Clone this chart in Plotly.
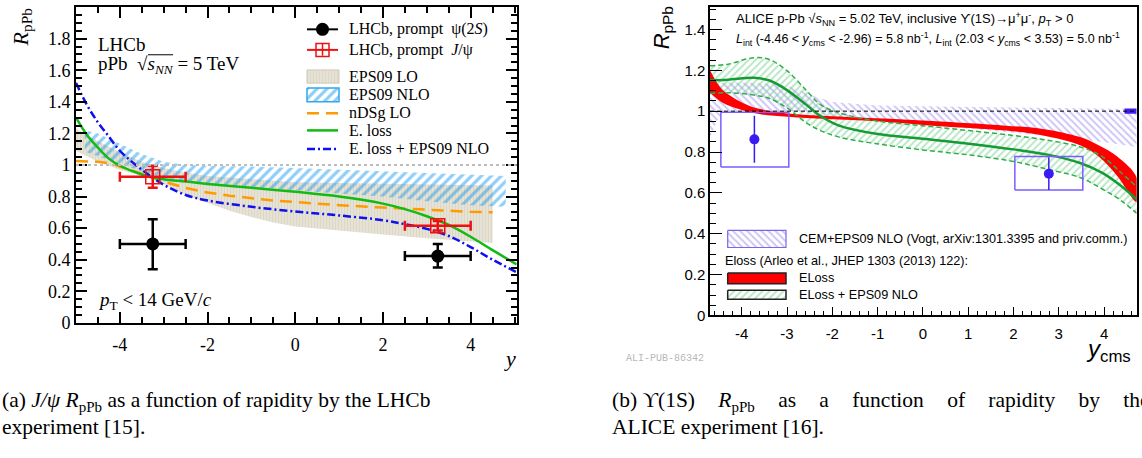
import plotly.graph_objects as go

W, H = 1142, 458
SERIF = "Liberation Serif"
SANS = "Liberation Sans"

# ---------------- LHCb (left panel) data ----------------
lhcb_bin_center = [-3.25, 3.25]
lhcb_bin_half = [0.75, 0.75]
psi2s_r = [0.50, 0.423]
psi2s_err_up = [0.156, 0.077]
psi2s_err_dn = [0.160, 0.073]
jpsi_r = [0.925, 0.615]
jpsi_err = [0.07, 0.03]

eps09lo_y = [-5, -4.5, -4, -3.5, -3, -2.5, -2, -1.5, -1, -0.5, 0, 1, 2, 3, 4, 4.5]
eps09lo_hi = [1.23, 1.15, 1.08, 1.02, 0.98, 0.95, 0.93, 0.92, 0.91, 0.90, 0.89, 0.885, 0.88, 0.875, 0.87, 0.87]
eps09lo_lo = [1.09, 1.02, 0.97, 0.93, 0.88, 0.81, 0.76, 0.71, 0.67, 0.635, 0.61, 0.585, 0.56, 0.535, 0.515, 0.505]

eps09nlo_y = [-4.8, -4.5, -4, -3.5, -3, -2.5, -2, -1, 0, 1, 2, 3, 4, 4.8]
eps09nlo_hi = [1.22, 1.20, 1.135, 1.07, 1.02, 1.0, 0.995, 0.99, 0.98, 0.97, 0.96, 0.95, 0.94, 0.93]
eps09nlo_lo = [1.085, 1.06, 1.01, 0.96, 0.92, 0.90, 0.88, 0.86, 0.84, 0.82, 0.80, 0.77, 0.745, 0.735]

ndsg_y = [-5, -4.5, -4.2, -4, -3.5, -3, -2.5, -2, -1.5, -1, -0.5, 0, 1, 2, 3, 4, 4.5]
ndsg_r = [1.025, 1.02, 1.01, 0.99, 0.945, 0.895, 0.855, 0.825, 0.805, 0.79, 0.775, 0.765, 0.745, 0.73, 0.715, 0.703, 0.70]

eloss_y = [-5, -4.75, -4.5, -4.25, -4, -3.5, -3, -2.5, -2, -1, 0, 1, 2, 2.5, 3, 3.5, 4, 4.5, 5.05]
eloss_r = [1.30, 1.19, 1.11, 1.04, 0.995, 0.94, 0.91, 0.895, 0.88, 0.855, 0.83, 0.80, 0.755, 0.72, 0.675, 0.62, 0.545, 0.46, 0.37]

elosseps_y = [-5, -4.75, -4.5, -4.25, -4, -3.5, -3, -2.5, -2, -1, 0, 1, 2, 2.5, 3, 3.5, 4, 4.5, 5.05]
elosseps_r = [1.52, 1.38, 1.27, 1.18, 1.09, 0.97, 0.875, 0.81, 0.775, 0.735, 0.705, 0.68, 0.65, 0.625, 0.595, 0.55, 0.48, 0.40, 0.32]

left_xticks = [-4, -2, 0, 2, 4]
left_xticklabels = ["-4", "-2", "0", "2", "4"]
left_yticks = [0, 0.2, 0.4, 0.6, 0.8, 1.0, 1.2, 1.4, 1.6, 1.8, 2.0]
left_yticklabels = ["0", "0.2", "0.4", "0.6", "0.8", "1", "1.2", "1.4", "1.6", "1.8", "2"]

# ---------------- ALICE (right panel) data ----------------
ups_y = [-3.72, 2.78]
ups_r = [0.862, 0.694]
ups_stat = [0.115, 0.08]
ups_sys_xlo = [-4.46, 2.03]
ups_sys_xhi = [-2.96, 3.53]
ups_sys_up = [0.133, 0.084]
ups_sys_dn = [0.135, 0.080]
global_unc = 0.013
global_box_x = [4.45, 4.72]

cem_y = [-4.7, -4.55, -4.4, -4, -3.5, -3, -2.5, -2, -1.5, -1, 0, 1, 2, 3, 4, 4.72]
cem_hi = [1.12, 1.13, 1.14, 1.14, 1.135, 1.125, 1.08, 1.045, 1.035, 1.028, 1.024, 1.02, 1.018, 1.016, 1.013, 1.01]
cem_lo = [0.87, 0.95, 1.0, 1.0, 1.0, 1.0, 0.99, 0.975, 0.965, 0.955, 0.935, 0.915, 0.895, 0.873, 0.848, 0.825]

eloss_a_y = [-4.7, -4.44, -4.14, -3.85, -3.56, -2.98, -2.11, -1.02, 0.2, 1.83, 2.65, 3.47, 3.88, 4.29, 4.72]
eloss_a_hi = [1.20, 1.107, 1.06, 1.028, 1.009, 0.989, 0.976, 0.965, 0.952, 0.929, 0.913, 0.873, 0.833, 0.778, 0.675]
eloss_a_lo = [1.09, 1.044, 1.016, 0.997, 0.984, 0.972, 0.961, 0.95, 0.929, 0.905, 0.881, 0.833, 0.778, 0.683, 0.556]

elosseps_a_y = [-4.7, -4.3, -3.73, -3.4, -3.0, -2.58, -2.26, -1.85, -1.03, 0, 1.01, 2.0, 2.78, 3.47, 3.96, 4.37, 4.72]
elosseps_a_c = [1.151, 1.154, 1.163, 1.151, 1.103, 1.032, 0.976, 0.929, 0.889, 0.865, 0.841, 0.813, 0.786, 0.746, 0.698, 0.635, 0.568]
elosseps_a_hi = [1.222, 1.23, 1.262, 1.254, 1.198, 1.103, 1.032, 0.992, 0.952, 0.929, 0.905, 0.881, 0.857, 0.825, 0.778, 0.70, 0.63]
elosseps_a_lo = [1.087, 1.09, 1.079, 1.063, 1.016, 0.944, 0.905, 0.873, 0.841, 0.810, 0.786, 0.754, 0.714, 0.675, 0.619, 0.563, 0.50]

right_xticks = [-4, -3, -2, -1, 0, 1, 2, 3, 4]
right_xticklabels = ["-4", "-3", "-2", "-1", "0", "1", "2", "3", "4"]
right_yticks = [0, 0.2, 0.4, 0.6, 0.8, 1.0, 1.2, 1.4]
right_yticklabels = ["0", "0.2", "0.4", "0.6", "0.8", "1", "1.2", "1.4"]


def fx(px):
    return px / W


def fy(py):
    return 1 - py / H


def band(xs, hi, lo):
    return list(xs) + list(xs)[::-1], list(hi) + list(lo)[::-1]


fig = go.Figure()
nohover = dict(hoverinfo="skip", showlegend=False)

BEIGE_PAT = dict(shape="|", fgcolor="#d3ccb8", bgcolor="#e6e2d5", size=3, solidity=0.35)
BLUE_PAT = dict(shape="/", fgcolor="#1e9cf0", bgcolor="rgba(0,0,0,0)", size=7, solidity=0.45)
VIOLET_PAT = dict(shape="\\", fgcolor="#9c8cf0", bgcolor="rgba(0,0,0,0)", size=5, solidity=0.4)
GREEN_PAT = dict(shape="/", fgcolor="#6fcf8a", bgcolor="rgba(0,0,0,0)", size=5, solidity=0.38)

# ---- left panel ----
bx, by = band(eps09lo_y, eps09lo_hi, eps09lo_lo)
fig.add_trace(go.Scatter(x=bx, y=by, fill="toself", mode="lines", line=dict(width=0),
                         fillcolor="#e6e2d5", fillpattern=BEIGE_PAT, xaxis="x", yaxis="y", **nohover))
bx, by = band(eps09nlo_y, eps09nlo_hi, eps09nlo_lo)
fig.add_trace(go.Scatter(x=bx, y=by, fill="toself", mode="lines", line=dict(width=0),
                         fillcolor="rgba(0,0,0,0)", fillpattern=BLUE_PAT, xaxis="x", yaxis="y", **nohover))
fig.add_trace(go.Scatter(x=ndsg_y, y=ndsg_r, mode="lines",
                         line=dict(color="#ff9a00", width=2.5, dash="12px,7px"),
                         xaxis="x", yaxis="y", **nohover))
fig.add_trace(go.Scatter(x=eloss_y, y=eloss_r, mode="lines", line=dict(color="#11bb11", width=2.5, shape="spline"),
                         xaxis="x", yaxis="y", **nohover))
fig.add_trace(go.Scatter(x=elosseps_y, y=elosseps_r, mode="lines",
                         line=dict(color="#1010ee", width=2.5, dash="8px,3px,2px,3px", shape="spline"),
                         xaxis="x", yaxis="y", **nohover))
fig.add_trace(go.Scatter(x=lhcb_bin_center, y=jpsi_r, mode="markers",
                         marker=dict(symbol="square-open", size=14, color="#ee1111", line=dict(width=1.5, color="#ee1111")),
                         error_x=dict(type="data", array=lhcb_bin_half, color="#ee1111", thickness=2.5, width=5),
                         error_y=dict(type="data", array=jpsi_err, color="#ee1111", thickness=2.5, width=5),
                         xaxis="x", yaxis="y", **nohover))
fig.add_trace(go.Scatter(x=lhcb_bin_center, y=psi2s_r, mode="markers",
                         marker=dict(symbol="circle", size=13, color="black"),
                         error_x=dict(type="data", array=lhcb_bin_half, color="black", thickness=2.5, width=5),
                         error_y=dict(type="data", array=psi2s_err_up, arrayminus=psi2s_err_dn, color="black",
                                      thickness=2.5, width=5),
                         xaxis="x", yaxis="y", **nohover))

# ---- right panel ----
bx, by = band(cem_y, cem_hi, cem_lo)
fig.add_trace(go.Scatter(x=bx, y=by, fill="toself", mode="lines", line=dict(width=0),
                         fillcolor="rgba(0,0,0,0)", fillpattern=VIOLET_PAT, xaxis="x2", yaxis="y2", **nohover))
bx, by = band(elosseps_a_y, elosseps_a_hi, elosseps_a_lo)
fig.add_trace(go.Scatter(x=bx, y=by, fill="toself", mode="lines", line=dict(width=0),
                         fillcolor="rgba(0,0,0,0)", fillpattern=GREEN_PAT, xaxis="x2", yaxis="y2", **nohover))
bx, by = band(eloss_a_y, eloss_a_hi, eloss_a_lo)
fig.add_trace(go.Scatter(x=bx, y=by, fill="toself", mode="lines", line=dict(width=0, shape="spline"),
                         fillcolor="#ff0000", xaxis="x2", yaxis="y2", **nohover))
for edge in (elosseps_a_hi, elosseps_a_lo):
    fig.add_trace(go.Scatter(x=elosseps_a_y, y=edge, mode="lines",
                             line=dict(color="#2fae4a", width=1.5, dash="5px,3px", shape="spline"),
                             xaxis="x2", yaxis="y2", **nohover))
fig.add_trace(go.Scatter(x=elosseps_a_y, y=elosseps_a_c, mode="lines",
                         line=dict(color="#169a34", width=2.5, shape="spline"),
                         xaxis="x2", yaxis="y2", **nohover))
for i in range(len(ups_y)):
    x0, x1 = ups_sys_xlo[i], ups_sys_xhi[i]
    y0, y1 = ups_r[i] - ups_sys_dn[i], ups_r[i] + ups_sys_up[i]
    fig.add_trace(go.Scatter(x=[x0, x1, x1, x0, x0], y=[y0, y0, y1, y1, y0], mode="lines",
                             line=dict(color="#7a5cff", width=1.5), xaxis="x2", yaxis="y2", **nohover))
fig.add_trace(go.Scatter(x=ups_y, y=ups_r, mode="markers",
                         marker=dict(symbol="circle", size=10, color="#3a1cf2"),
                         error_y=dict(type="data", array=ups_stat, color="#3a1cf2", thickness=1.5, width=0),
                         xaxis="x2", yaxis="y2", **nohover))
gx0, gx1 = global_box_x
fig.add_trace(go.Scatter(x=[gx0, gx1, gx1, gx0, gx0],
                         y=[1 - global_unc, 1 - global_unc, 1 + global_unc, 1 + global_unc, 1 - global_unc],
                         fill="toself", mode="lines", line=dict(width=0), fillcolor="#3d1ff5",
                         xaxis="x2", yaxis="y2", **nohover))


# ---- legend keys (pixel-space overlay) ----
def key_line(x0, x1, yy, **line):
    fig.add_trace(go.Scatter(x=[x0, x1], y=[yy, yy], mode="lines", line=line, xaxis="x3", yaxis="y3", **nohover))


def key_rect(x0, x1, y0, y1, fillcolor="rgba(0,0,0,0)", pattern=None, border="black", bw=1.0):
    kw = dict(fill="toself", fillcolor=fillcolor, mode="lines", line=dict(color=border, width=bw))
    if pattern:
        kw["fillpattern"] = pattern
    fig.add_trace(go.Scatter(x=[x0, x1, x1, x0, x0], y=[y0, y0, y1, y1, y0], xaxis="x3", yaxis="y3",
                             **kw, **nohover))


LX0, LX1, LXT = 307, 338, 347
rows = [30, 51, 77.7, 96.7, 115.7, 133.3, 152.3]
LXC = (LX0 + LX1) / 2
key_line(LX0, LX1, rows[0], color="black", width=2)
fig.add_trace(go.Scatter(x=[LXC], y=[rows[0]], mode="markers",
                         marker=dict(size=13, color="black"), xaxis="x3", yaxis="y3", **nohover))
key_line(LX0, LX1, rows[1], color="#ee1111", width=2)
fig.add_trace(go.Scatter(x=[LXC, LXC], y=[rows[1] - 6, rows[1] + 6], mode="lines",
                         line=dict(color="#ee1111", width=1.5), xaxis="x3", yaxis="y3", **nohover))
fig.add_trace(go.Scatter(x=[LXC], y=[rows[1]], mode="markers",
                         marker=dict(symbol="square-open", size=13, color="#ee1111", line=dict(width=1.5)),
                         xaxis="x3", yaxis="y3", **nohover))
key_rect(LX0, LX1 + 1, 71.5, 85, fillcolor="#e6e2d5", pattern=BEIGE_PAT, border="#cfc9b5", bw=1)
key_rect(LX0, LX1 + 1, 90, 104, pattern=BLUE_PAT, border="#30a8f0", bw=1.5)
key_line(LX0, LX1, rows[4], color="#ff9a00", width=2.5, dash="12px,7px")
key_line(LX0, LX1, rows[5], color="#11bb11", width=2.5)
key_line(LX0, LX1, rows[6], color="#1010ee", width=2.5, dash="8px,3px,2px,3px")

RX0, RX1 = 727.7, 786
key_rect(RX0, RX1, 235.5, 253, pattern=VIOLET_PAT, border="#7a66e8", bw=1.2)
key_rect(RX0, RX1, 279, 290, fillcolor="#ff0000", border="#222222", bw=1.5)
key_rect(RX0, RX1, 296.7, 306, pattern=GREEN_PAT, border="#222222", bw=1.5)

# ---- reference lines ----
shapes = [
    dict(type="line", xref="x domain", yref="y", x0=0, x1=1, y0=1, y1=1,
         line=dict(color="#bdbdbd", width=2, dash="dot"), layer="above"),
    dict(type="line", xref="x2 domain", yref="y2", x0=0, x1=1, y0=1, y1=1,
         line=dict(color="black", width=1, dash="4px,3px"), layer="above"),
    # square-root overline over s_NN
    dict(type="line", xref="paper", yref="paper", x0=fx(148), x1=fx(173), y0=fy(56), y1=fy(56),
         line=dict(color="black", width=1)),
]

# ---- annotations ----
ann = []


def text(px, py, s, family, size, xanchor="left", color="black", angle=0):
    ann.append(dict(x=fx(px), y=fy(py), xref="paper", yref="paper", text=s, showarrow=False,
                    xanchor=xanchor, yanchor="middle", textangle=angle,
                    font=dict(family=family, size=size, color=color)))


text(22, 28, "<i>R</i><sub>pPb</sub>", SERIF, 22, xanchor="center", angle=-90)
text(510, 366, "<i>y</i>", SERIF, 22, xanchor="center")
text(96, 45.5, "LHCb", SERIF, 19)
text(96, 66, "pPb  √<i>s</i><sub><i>NN</i></sub> = 5 TeV", SERIF, 19)
text(96, 308, "<i>p</i><sub>T</sub> &lt; 14 GeV/<i>c</i>", SERIF, 19)
left_labels = ["LHCb, prompt  ψ(2<i>S</i>)", "LHCb, prompt  <i>J</i>/ψ", "EPS09 LO", "EPS09 NLO",
               "nDSg LO", "E. loss", "E. loss + EPS09 NLO"]
for r, s in zip(rows, left_labels):
    text(LXT, r, s, SERIF, 16)

text(663, 29, "<i>R</i><sub>pPb</sub>", SANS, 22, xanchor="center", angle=-90)
text(1108, 358, "<i>y</i><sub>cms</sub>", SANS, 24, xanchor="center")
text(665, 367, "ALI-PUB-86342", "Liberation Mono", 10, xanchor="center", color="#b8b8b8")
text(734, 19, "ALICE p-Pb √<i>s</i><sub>NN</sub> = 5.02 TeV, inclusive ϒ(1S)→μ<sup>+</sup>μ<sup>-</sup>, "
              "<i>p</i><sub>T</sub> > 0", SANS, 13)
text(734, 40, "<i>L</i><sub>int</sub> (-4.46 &lt; <i>y</i><sub>cms</sub> &lt; -2.96) = 5.8 nb<sup>-1</sup>, "
              "<i>L</i><sub>int</sub> (2.03 &lt; <i>y</i><sub>cms</sub> &lt; 3.53) = 5.0 nb<sup>-1</sup>", SANS, 12.5)
text(797, 244.5, "CEM+EPS09 NLO (Vogt, arXiv:1301.3395 and priv.comm.)", SANS, 12.6)
text(723, 266.7, "Eloss (Arleo et al., JHEP 1303 (2013) 122):", SANS, 12.7)
text(797, 284, "ELoss", SANS, 12.7)
text(797, 301.5, "ELoss + EPS09 NLO", SANS, 12.7)

GAP = "    \u200a"
text(0, 410, "(a) <i>J/ψ</i> <i>R</i><sub>pPb</sub> as a function of rapidity by the LHCb", SERIF, 21.5)
text(0, 437, "experiment [15].", SERIF, 21.5)
text(610, 410, GAP.join(["(b) ϒ(1S)", "<i>R</i><sub>pPb</sub>", "as", "a", "function", "of", "rapidity",
                         "by", "the"]), SERIF, 21.5)
text(610, 437, "ALICE experiment [16].", SERIF, 21.5)

axis_common = dict(showgrid=False, zeroline=False, showline=True, linecolor="black", ticks="inside",
                   tickcolor="black")
fig.update_layout(
    width=W, height=H, margin=dict(l=0, r=0, t=0, b=0),
    paper_bgcolor="white", plot_bgcolor="rgba(0,0,0,0)", showlegend=False,
    xaxis=dict(domain=[fx(76), fx(516.7)], range=[-5, 5.05], anchor="y", linewidth=2, mirror="ticks",
               ticklen=11, tickwidth=2, tickmode="array", tickvals=left_xticks, ticktext=left_xticklabels,
               ticklabelstandoff=5,
               minor=dict(ticks="inside", ticklen=6, tickwidth=1.5, tickmode="linear", tick0=0, dtick=0.5,
                          tickcolor="black"),
               tickfont=dict(family=SERIF, size=18, color="black"), **axis_common),
    yaxis=dict(domain=[fy(330), fy(7.3)], range=[0, 2], anchor="x", linewidth=2, mirror="ticks",
               ticklen=11, tickwidth=2, tickmode="array", tickvals=left_yticks, ticktext=left_yticklabels,
               minor=dict(ticks="inside", ticklen=6, tickwidth=1.5, tickmode="linear", dtick=0.05, tick0=0,
                          tickcolor="black"),
               tickfont=dict(family=SERIF, size=18, color="black"), **axis_common),
    xaxis2=dict(domain=[fx(710), fx(1136.7)], range=[-4.7, 4.72], anchor="y2", linewidth=1.5, mirror=True,
                ticklen=9, tickwidth=1.2, tickmode="array", tickvals=right_xticks, ticktext=right_xticklabels,
                ticklabelstandoff=4,
                minor=dict(ticks="inside", ticklen=5, tickwidth=1, tickmode="linear", tick0=0, dtick=0.2,
                           tickcolor="black"),
                tickfont=dict(family=SANS, size=15, color="black"), **axis_common),
    yaxis2=dict(domain=[fy(322.5), fy(6.7)], range=[0, 1.512], anchor="x2", linewidth=1.5, mirror=True,
                ticklen=12, tickwidth=1.2, tickmode="array", tickvals=right_yticks, ticktext=right_yticklabels,
                minor=dict(ticks="inside", ticklen=6, tickwidth=1, tickmode="linear", dtick=0.05, tick0=0,
                           tickcolor="black"),
                tickfont=dict(family=SANS, size=15, color="black"), **axis_common),
    xaxis3=dict(domain=[0, 1], range=[0, W], anchor="y3", visible=False, fixedrange=True),
    yaxis3=dict(domain=[0, 1], range=[H, 0], anchor="x3", visible=False, fixedrange=True),
    shapes=shapes, annotations=ann,
)

fig.write_html("out.html", config={"displayModeBar": False},
               post_script="document.body.style.margin='0px';document.body.style.padding='0px';")
